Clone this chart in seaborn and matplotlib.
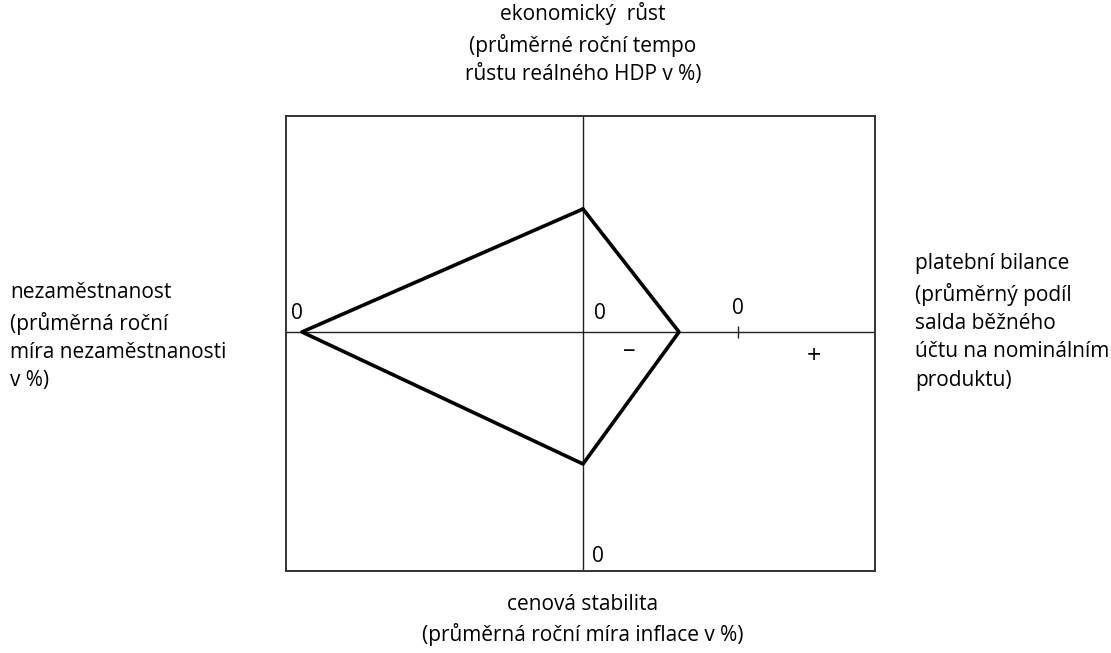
"""
Magicky ctyruhelnik - recreated with seaborn
"""
import pandas as pd
import seaborn as sns
import matplotlib.pyplot as plt

sns.set_theme(style='white')
plt.rcParams['font.family'] = ['Open Sans', 'DejaVu Sans']
plt.rcParams['text.color'] = 'black'

# values on the four axes (arbitrary units, origin = axis cross)
growth = 12.3         # ekonomicky rust (up)
balance = 9.6         # platebni bilance (right)
inflation = -13.2     # cenova stabilita (down)
unemployment = -28.1  # nezamestnanost (left)

axis_labels = [
    'ekonomický  růst\n(průměrné roční tempo\nrůstu reálného HDP v %)',
    'platební bilance\n(průměrný podíl\nsalda běžného\núčtu na nominálním\nproduktu)',
    'cenová stabilita\n(průměrná roční míra inflace v %)',
    'nezaměstnanost\n(průměrná roční\nmíra nezaměstnanosti\nv %)',
]

zero_labels = ['0', '0', '0', '0']
sign_labels = ['–', '+']

quad = pd.DataFrame({
    'x': [0, balance, 0, unemployment, 0],
    'y': [growth, 0, inflation, 0, growth],
})


def main():
    fig = plt.figure(figsize=(11.11, 6.53), dpi=100)
    ax = fig.add_axes([0.2574, 0.1256, 0.5302, 0.6968])
    ax.set_xlim(-29.7, 29.2)
    ax.set_ylim(-23.9, 21.6)

    # axis cross
    ax.axhline(0, color='#222222', lw=1.0, zorder=1)
    ax.axvline(0, color='#222222', lw=1.0, zorder=1)
    ax.plot([15.5], [0], marker='|', ms=9, mew=1.0, color='#222222')

    sns.lineplot(data=quad, x='x', y='y', sort=False, estimator=None,
                 color='black', lw=2.6, ax=ax, zorder=3)

    # zero marks and signs on the axes
    zero_pos = [(-28.6, 1.8), (1.7, 1.8), (15.5, 2.3), (1.5, -22.5)]
    for label, (x, y) in zip(zero_labels, zero_pos):
        ax.text(x, y, label, ha='center', va='center', fontsize=15)
    ax.text(4.6, -1.9, sign_labels[0], ha='center', va='center', fontsize=18)
    ax.text(23.1, -2.5, sign_labels[1], ha='center', va='center',
            fontsize=18)

    ax.set_xticks([])
    ax.set_yticks([])
    ax.set_xlabel('')
    ax.set_ylabel('')
    for side in ax.spines.values():
        side.set_color('#333333')
        side.set_linewidth(1.4)

    # the four axis descriptions
    fig.text(0.5248, 0.933, axis_labels[0], ha='center', va='center',
             fontsize=15, linespacing=1.46)
    fig.text(0.8236, 0.507, axis_labels[1], ha='left', va='center',
             fontsize=15, linespacing=1.46)
    fig.text(0.5248, 0.050, axis_labels[2], ha='center', va='center',
             fontsize=15, linespacing=1.46)
    fig.text(0.009, 0.484, axis_labels[3], ha='left', va='center',
             fontsize=15, linespacing=1.46)

    fig.savefig('out.png', dpi=100)


if __name__ == '__main__':
    main()
